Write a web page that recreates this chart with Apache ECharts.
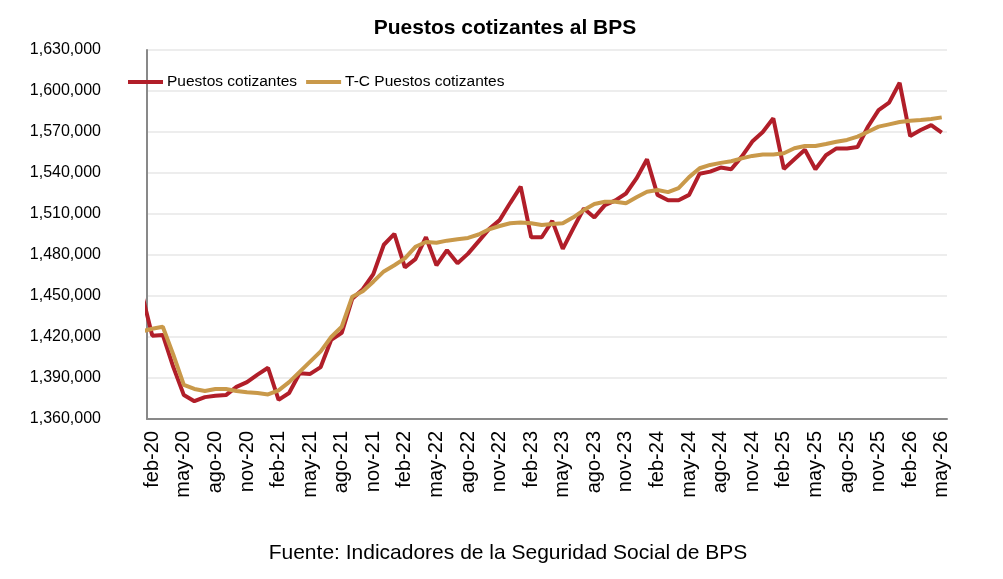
<!DOCTYPE html>
<html>
<head>
	<meta charset="utf-8">
	<title>Puestos cotizantes al BPS</title>
	<script src="https://cdn.jsdelivr.net/npm/echarts@6/dist/echarts.min.js"></script>
	<style>
		html,body{margin:0;padding:0;background:#fff;}
		#chart{width:1003px;height:579px;}
	</style>
</head>
<body>
	<div id="chart"></div>
<script type="text/javascript">
	// ene-20 only shows as a clipped stub at the left edge
	const months = [
		'ene-20','feb-20','mar-20','abr-20','may-20','jun-20','jul-20','ago-20','sep-20','oct-20','nov-20','dic-20',
		'ene-21','feb-21','mar-21','abr-21','may-21','jun-21','jul-21','ago-21','sep-21','oct-21','nov-21','dic-21',
		'ene-22','feb-22','mar-22','abr-22','may-22','jun-22','jul-22','ago-22','sep-22','oct-22','nov-22','dic-22',
		'ene-23','feb-23','mar-23','abr-23','may-23','jun-23','jul-23','ago-23','sep-23','oct-23','nov-23','dic-23',
		'ene-24','feb-24','mar-24','abr-24','may-24','jun-24','jul-24','ago-24','sep-24','oct-24','nov-24','dic-24',
		'ene-25','feb-25','mar-25','abr-25','may-25','jun-25','jul-25','ago-25','sep-25','oct-25','nov-25','dic-25',
		'ene-26','feb-26','mar-26','abr-26','may-26'
	];
	const puestos = [
		1452000,1421000,1421500,1398000,1377500,1373000,1376000,1377000,1377500,1383500,1387000,1392500,
		1397500,1374000,1379000,1393500,1393000,1398000,1418000,1423000,1448000,1455000,1466000,1487500,
		1495500,1471000,1477000,1493000,1472500,1483500,1474000,1481000,1490000,1499000,1505500,1518000,
		1530000,1493000,1493000,1505000,1484500,1499500,1514000,1507500,1516500,1520000,1525000,1536000,
		1550000,1524000,1520000,1520000,1524000,1539500,1541000,1544000,1542700,1552000,1563000,1570000,
		1580000,1543000,1550000,1557000,1542700,1553000,1558000,1558000,1559000,1574000,1586000,1591500,
		1606000,1567000,1571500,1575000,1569500
	];
	const tendencia = [
		1424000,1426000,1427500,1407000,1385000,1382000,1380500,1382000,1382000,1380500,1379500,1379000,
		1378000,1381000,1387000,1394500,1402000,1409500,1420000,1427500,1449500,1453500,1460500,1468000,
		1472500,1477500,1486000,1489500,1489000,1490500,1491500,1492500,1495000,1498800,1501200,1503200,
		1503700,1503200,1502000,1502700,1503200,1507600,1512900,1517300,1519000,1519000,1517800,1522200,
		1526300,1527600,1526000,1529000,1537000,1543500,1545900,1547400,1548600,1550700,1552500,1553500,
		1553500,1554400,1558100,1559800,1559800,1561200,1562900,1564200,1566600,1570200,1573900,1575600,
		1577300,1578300,1578800,1579500,1580700
	];
	const labelMonths = ['feb-20','may-20','ago-20','nov-20','feb-21','may-21','ago-21','nov-21','feb-22','may-22','ago-22','nov-22',
		'feb-23','may-23','ago-23','nov-23','feb-24','may-24','ago-24','nov-24','feb-25','may-25','ago-25','nov-25','feb-26','may-26'];
	const seriesNames = ['Puestos cotizantes','T-C Puestos cotizantes'];
	const yTicks = [1360000,1630000,30000];

	const font = '"Liberation Sans", Arial, sans-serif';

	let labelIdx = labelMonths.map(m => months.indexOf(m));
	let redData = puestos.map((v,i) => [i,v]);
	let goldData = tendencia.map((v,i) => [i,v]);

	var myChart = echarts.init(document.getElementById('chart'), null, {renderer:'canvas'});
	var option = {
		backgroundColor: '#fff',
		animation: false,
		graphic: [
			{
				type: 'text', x: 505, y: 28,
				style: {text: 'Puestos cotizantes al BPS', fill: '#000', textAlign: 'center', textVerticalAlign: 'middle',
					font: 'bold 21px ' + font}
			},
			{
				type: 'text', x: 508, y: 553,
				style: {text: 'Fuente: Indicadores de la Seguridad Social de BPS', fill: '#000', textAlign: 'center', textVerticalAlign: 'middle',
					font: '21px ' + font}
			}
		],
		legend: {
			left: 128,
			top: 74,
			padding: 0,
			itemWidth: 35,
			itemHeight: 4,
			itemGap: 9,
			icon: 'rect',
			data: seriesNames,
			textStyle: {fontFamily: font, fontSize: 15.5, color: '#000', padding: [0,0,0,-1]}
		},
		grid: {left: 147, right: 56, top: 50, bottom: 160},
		xAxis: {
			type: 'value',
			min: 0.5,
			max: 76.5,
			axisLine: {show: true, onZero: false, lineStyle: {color: '#898989', width: 2}},
			axisTick: {show: false},
			splitLine: {show: false},
			axisLabel: {
				customValues: labelIdx,
				rotate: 90,
				margin: 12,
				fontFamily: font,
				fontSize: 20,
				color: '#000',
				formatter: v => months[Math.round(v)]
			}
		},
		yAxis: {
			type: 'value',
			min: yTicks[0],
			max: yTicks[1],
			interval: yTicks[2],
			axisLine: {show: true, lineStyle: {color: '#898989', width: 2}},
			axisTick: {show: false},
			splitLine: {lineStyle: {color: '#ededed', width: 2}},
			axisLabel: {
				margin: 46,
				fontFamily: font,
				fontSize: 16,
				color: '#000',
				formatter: v => v.toLocaleString('en-US')
			}
		},
		series: [
			{
				name: seriesNames[0],
				type: 'line',
				data: redData,
				showSymbol: false,
				clip: true,
				color: '#B11E29',
				lineStyle: {width: 4, color: '#B11E29'}
			},
			{
				name: seriesNames[1],
				type: 'line',
				data: goldData,
				showSymbol: false,
				clip: true,
				color: '#C9994A',
				lineStyle: {width: 4, color: '#C9994A'}
			}
		]
	};
	myChart.setOption(option);
</script>
</body>
</html>
